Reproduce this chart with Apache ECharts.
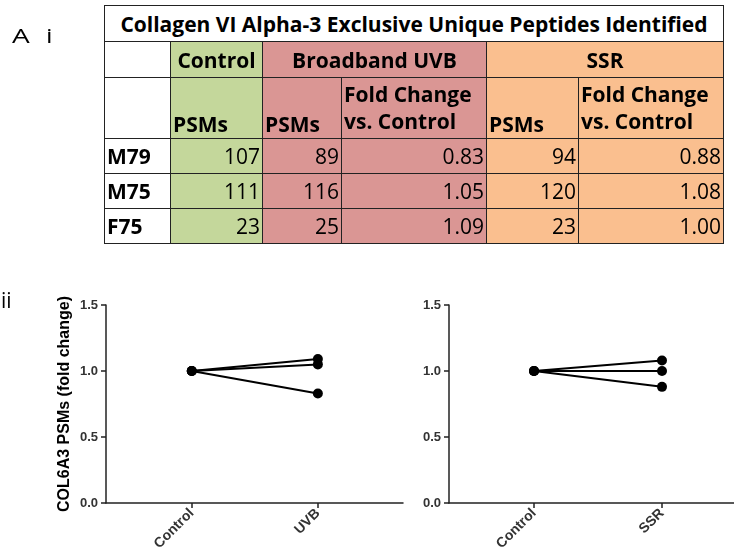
<!DOCTYPE html>
<html><head><meta charset="utf-8">
<script src="https://cdn.jsdelivr.net/npm/echarts@6/dist/echarts.min.js"></script>
<style>
html,body{margin:0;padding:0;background:#fff;}
#wrap{position:relative;width:734px;height:558px;overflow:hidden;}
#chart{position:absolute;left:0;top:0;width:734px;height:558px;}
#tbl{position:absolute;left:104px;top:5px;border-collapse:collapse;table-layout:fixed;font-family:"Open Sans",sans-serif;font-size:21px;color:#000;z-index:2;}
#tbl td{border:1px solid #222;padding:0 2px;line-height:22px;white-space:nowrap;overflow:hidden;}
#tbl .b{font-weight:bold;}
.lab{position:absolute;font-family:"Open Sans",Arial,sans-serif;color:#000;z-index:2;transform-origin:left top;}
</style></head>
<body><div id="wrap">
<div id="chart"></div>
<div class="lab" style="left:12px;top:22px;font-size:20px;transform:scaleX(1.4);">A</div>
<div class="lab" style="left:46px;top:22px;font-size:20px;transform:scaleX(1.3);">i</div>
<div class="lab" style="left:1px;top:286px;font-size:21px;">ii</div>
<table id="tbl"></table>
</div>
<script>
// ---- data ----
const tableTitle = "Collagen VI Alpha-3 Exclusive Unique Peptides Identified";
const groups = ["Control", "Broadband UVB", "SSR"];
const samples = ["M79", "M75", "F75"];
const controlPSMs = [107, 111, 23];
const uvbPSMs = [89, 116, 25];
const uvbFold = [0.83, 1.05, 1.09];
const ssrPSMs = [94, 120, 23];
const ssrFold = [0.88, 1.08, 1.00];
const controlFold = [1.0, 1.0, 1.0];
const leftCats = ["Control", "UVB"];
const rightCats = ["Control", "SSR"];
const yName = "COL6A3 PSMs (fold change)";

// ---- table ----
const G = "#c4d79b", R = "#da9694", O = "#fabf8f";
const widths = [66, 92, 79, 145, 92, 145];
let h = '<colgroup>' + widths.map(w => `<col style="width:${w}px">`).join('') + '</colgroup>';
h += `<tr style="height:36px"><td colspan="6" class="b" style="text-align:center;background:#fff;font-size:21px">${tableTitle}</td></tr>`;
h += `<tr style="height:36px"><td style="background:#fff"></td>`+
     `<td class="b" style="background:${G};text-align:center">${groups[0]}</td>`+
     `<td colspan="2" class="b" style="background:${R};text-align:center">${groups[1]}</td>`+
     `<td colspan="2" class="b" style="background:${O};text-align:center">${groups[2]}</td></tr>`;
const fc = "Fold Change<br>vs. Control";
const hb = "vertical-align:bottom;padding-bottom:3px;";
h += `<tr style="height:61px" class="b"><td style="background:#fff"></td>`+
     `<td class="b" style="background:${G};${hb}">PSMs</td>`+
     `<td class="b" style="background:${R};${hb}">PSMs</td>`+
     `<td class="b" style="background:${R};${hb}line-height:27px">${fc}</td>`+
     `<td class="b" style="background:${O};${hb}">PSMs</td>`+
     `<td class="b" style="background:${O};${hb}line-height:27px">${fc}</td></tr>`;
samples.forEach((s, i) => {
  h += `<tr style="height:35px"><td class="b" style="background:#fff">${s}</td>`+
       `<td style="background:${G};text-align:right">${controlPSMs[i]}</td>`+
       `<td style="background:${R};text-align:right">${uvbPSMs[i]}</td>`+
       `<td style="background:${R};text-align:right">${uvbFold[i].toFixed(2)}</td>`+
       `<td style="background:${O};text-align:right">${ssrPSMs[i]}</td>`+
       `<td style="background:${O};text-align:right">${ssrFold[i].toFixed(2)}</td></tr>`;
});
document.getElementById('tbl').innerHTML = h;

// ---- charts ----
const chart = echarts.init(document.getElementById('chart'), null, {renderer: 'canvas'});
const font = 'Arial, "Liberation Sans", sans-serif';
function xAxis(gi, cats, min, max) {
  return {
    type: 'value', gridIndex: gi, min: min, max: max,
    splitLine: {show: false},
    axisLine: {lineStyle: {color: '#222', width: 1.5}},
    axisTick: {customValues: [1, 2], length: 5, lineStyle: {color: '#222', width: 1.5}},
    axisLabel: {customValues: [1, 2], rotate: 45, margin: 8, color: '#333', fontWeight: 'bold', fontSize: 14, fontFamily: font,
      formatter: v => cats[Math.round(v) - 1] || ''}
  };
}
function yAxis(gi, withName) {
  return {
    type: 'value', gridIndex: gi, min: 0, max: 1.5, interval: 0.5,
    splitLine: {show: false},
    axisLine: {show: true, lineStyle: {color: '#222', width: 1.5}},
    axisTick: {show: true, length: 5, lineStyle: {color: '#222', width: 1.5}},
    axisLabel: {margin: 8, color: '#333', fontWeight: 'bold', fontSize: 13, fontFamily: font, formatter: v => v.toFixed(1)},
    name: withName ? yName : '', nameLocation: 'middle', nameGap: 33, nameRotate: 90,
    nameTextStyle: {color: '#000', fontWeight: 'bold', fontSize: 16, fontFamily: font}
  };
}
const series = [];
function addPairs(gi, treat) {
  treat.forEach((v, i) => {
    series.push({
      type: 'line', xAxisIndex: gi, yAxisIndex: gi,
      data: [[1, controlFold[i]], [2, v]],
      symbol: 'circle', symbolSize: 10,
      lineStyle: {color: '#000', width: 2},
      itemStyle: {color: '#000'},
      animation: false, z: 3
    });
  });
}
addPairs(0, uvbFold);
addPairs(1, ssrFold);
chart.setOption({
  animation: false,
  grid: [
    {left: 106, right: 331, top: 305, bottom: 55},
    {left: 449, right: 0, top: 305, bottom: 55}
  ],
  xAxis: [xAxis(0, leftCats, 0.32, 2.675), xAxis(1, rightCats, 0.336, 2.5625)],
  yAxis: [yAxis(0, true), yAxis(1, false)],
  series: series
});
</script>
</body></html>
